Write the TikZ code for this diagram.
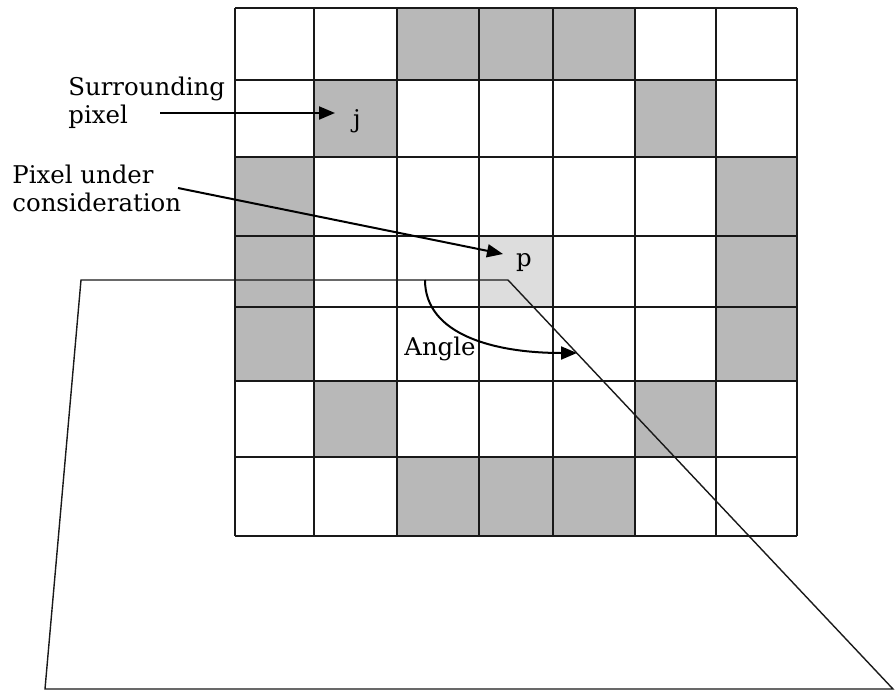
\documentclass[tikz,border=0pt]{standalone}
\usepackage{fontspec}
\setmainfont{DejaVu Serif}
\usetikzlibrary{positioning,arrows.meta}
\definecolor{cellgray}{RGB}{184,184,184}
\definecolor{cellpale}{RGB}{221,221,221}

\begin{document}
\begin{tikzpicture}[x=0.5pt,y=-0.5pt,
    gridline/.style={line width=1pt, draw=black!90},
    thinline/.style={line width=0.7pt, draw=black!90},
    labeltext/.style={font=\fontsize{12.2}{14}\selectfont, align=left, inner sep=0pt},
    celltext/.style={font=\fontsize{12.2}{14}\selectfont, inner sep=0pt},
    arr/.style={-{Triangle[length=8pt,width=6.5pt]}, line width=1pt}]
  \useasboundingbox (0,0) rectangle (895,691);

  % Shaded pixels of the ring
  \fill[cellgray] (397,8) rectangle (635,80);
  \fill[cellgray] (397,457) rectangle (635,536);
  \fill[cellgray] (314,80) rectangle (397,157);
  \fill[cellgray] (635,80) rectangle (716,157);
  \fill[cellgray] (314,381) rectangle (397,457);
  \fill[cellgray] (635,381) rectangle (716,457);
  \fill[cellgray] (235,157) rectangle (314,381);
  \fill[cellgray] (716,157) rectangle (797,381);
  \fill[cellpale] (479,236) rectangle (553,307);

  % Grid lines
  \foreach \x in {235,314,397,479,553,635,716,797}
    \draw[gridline] (\x,8) -- (\x,536);
  \foreach \y in {8,80,157,236,307,381,457,536}
    \draw[gridline] (235,\y) -- (797,\y);

  % Plane below the grid
  \draw[thinline] (81,280) -- (508,280) -- (893,689) -- (45,689) -- cycle;

  % Labels
  \node[celltext] (j) at (357,121) {j};
  \node[celltext] (p) at (524,263) {p};
  \node[labeltext, anchor=north west] (surr) at (68,77) {Surrounding\\pixel};
  \node[labeltext, anchor=north west] (pucon) at (12,165) {Pixel under\\consideration};
  \node[labeltext, anchor=base west] (angle) at (404,355) {Angle};

  % Arrows
  \coordinate (surrtail) at (160,113);
  \coordinate (pucontail) at (178,188);
  \coordinate (angstart) at (425,280);
  \coordinate (angend) at (577,353);
  \draw[arr] (surrtail) -- ([shift={(-22,-8)}]j.center);
  \draw[arr] (pucontail) -- ([shift={(-21,-9)}]p.center);
  \draw[arr] (angstart) .. controls (425,335) and (495,353) .. (angend);
\end{tikzpicture}
\end{document}
